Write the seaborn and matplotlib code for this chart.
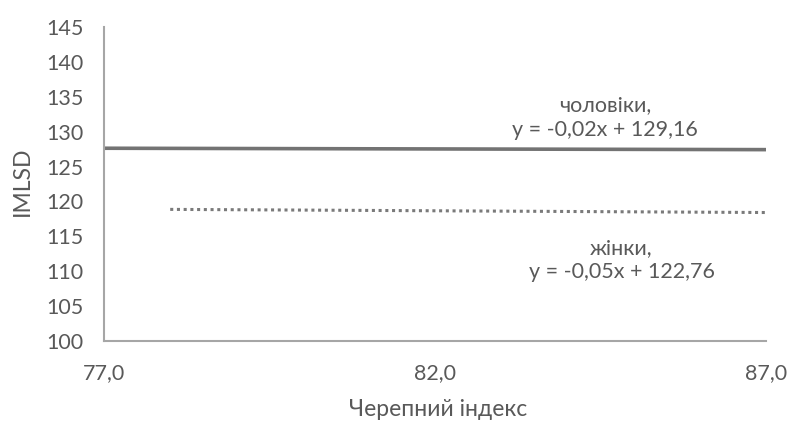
import numpy as np
import pandas as pd
import matplotlib
matplotlib.use('Agg')
import matplotlib.pyplot as plt
import seaborn as sns

# дані: кінцеві точки ліній тренду
men_x = [77.0, 87.0]
men_y = [127.62, 127.42]
women_x = [78.0, 87.0]
women_y = [118.86, 118.41]

x_ticks = [77.0, 82.0, 87.0]
y_ticks = [100, 105, 110, 115, 120, 125, 130, 135, 140, 145]

men_label = 'чоловіки,\ny = -0,02x + 129,16'
women_label = 'жінки,\ny = -0,05x + 122,76'

sns.set_style('white')
plt.rcParams['font.family'] = ['Lato', 'DejaVu Sans']
txt = '#595959'

df_m = pd.DataFrame({'x': men_x, 'y': men_y})
df_w = pd.DataFrame({'x': women_x, 'y': women_y})

fig = plt.figure(figsize=(7.96, 4.21), dpi=100)
ax = fig.add_axes([0.1307, 0.19, 0.8313, 0.746])

sns.lineplot(data=df_m, x='x', y='y', ax=ax, color='#737373', linewidth=2.6)
sns.lineplot(data=df_w, x='x', y='y', ax=ax, color='#7a7a7a', linewidth=2.2,
             linestyle=(0, (1, 1.2)))

ax.set_xlim(77, 87)
ax.set_ylim(100, 145)
ax.set_xticks(x_ticks)
ax.set_xticklabels([f'{v:.1f}'.replace('.', ',') for v in x_ticks])
ax.set_yticks(y_ticks)
ax.tick_params(axis='both', length=0, labelsize=15.5, colors=txt)
ax.tick_params(axis='x', pad=16)
ax.tick_params(axis='y', pad=15)

ax.set_xlabel('Черепний індекс', fontsize=16.5, color=txt)
ax.set_ylabel('IMLSD', fontsize=16.5, color=txt)
ax.xaxis.set_label_coords(0.505, -0.185)
ax.yaxis.set_label_coords(-0.124, 0.51)
ax.yaxis.label.set_va('center')

for s in ['top', 'right']:
    ax.spines[s].set_visible(False)
for s in ['left', 'bottom']:
    ax.spines[s].set_color('#a6a6a6')
    ax.spines[s].set_linewidth(1.5)

ax.text(84.57, 132.0, men_label, ha='center', va='center', fontsize=15.5,
        color=txt, linespacing=1.3)
ax.text(84.82, 111.6, women_label, ha='center', va='center', fontsize=15.5,
        color=txt, linespacing=1.3)

plt.savefig('out.png', dpi=100)
